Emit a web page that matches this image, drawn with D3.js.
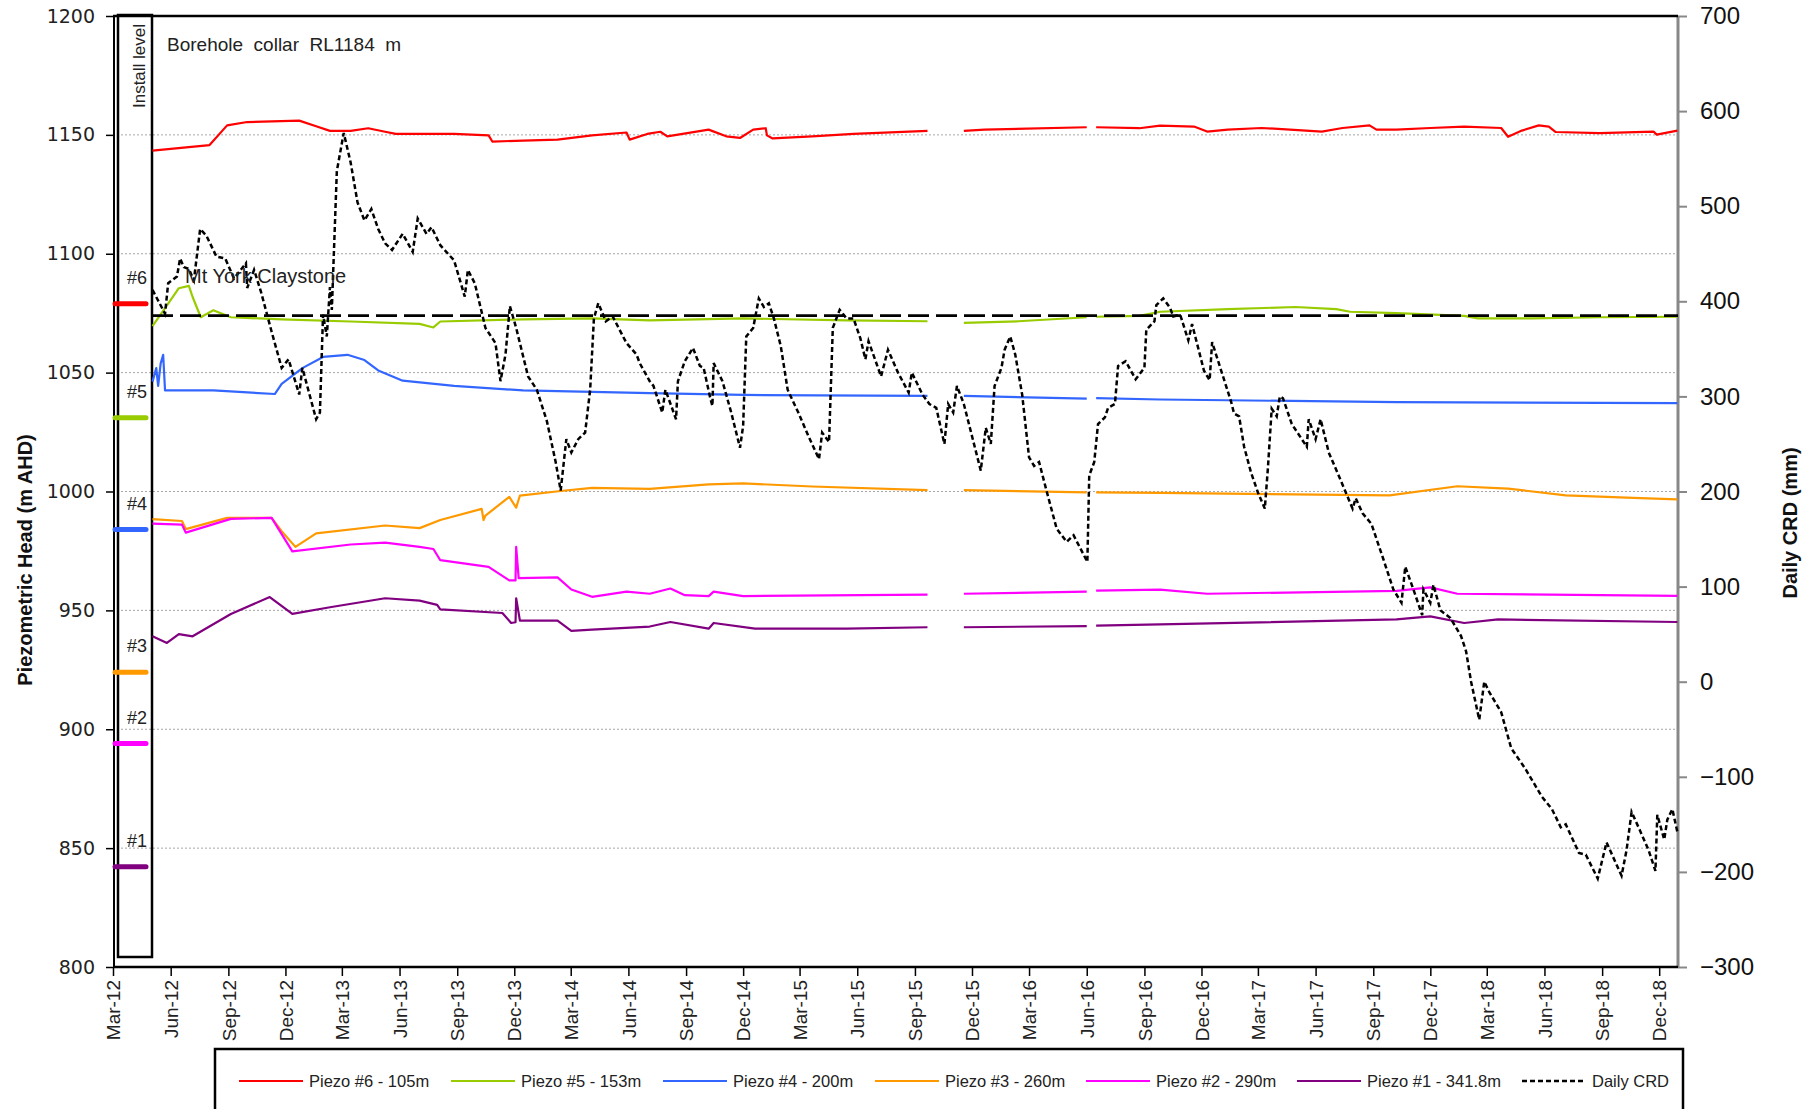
<!DOCTYPE html>
<html><head><meta charset="utf-8">
<script src="https://cdn.jsdelivr.net/npm/d3@7"></script>
<style>body{margin:0;background:#fff}svg{display:block}</style>
</head><body>
<svg id="chart" width="1818" height="1109"></svg>
<script>
// ---------- DATA ----------
const seriesNames = ["Piezo #6 - 105m","Piezo #5 - 153m","Piezo #4 - 200m","Piezo #3 - 260m","Piezo #2 - 290m","Piezo #1 - 341.8m"];
const seriesColors = ["#ff0000","#99cc00","#3366ff","#ff9900","#ff00ff","#800080"];
const installLabels = ["#6","#5","#4","#3","#2","#1"];
const installLevels = [1079, 1031, 984, 924, 894, 842.2];
const crdName = "Daily CRD";
const claystoneLevel = 1074;
const leftTicks = [800,850,900,950,1000,1050,1100,1150,1200];
const gridTicks = [850,900,950,1000,1050,1100,1150];
const rightTicks = [-300,-200,-100,0,100,200,300,400,500,600,700];

const piezo6 = [["2012-05-03",1143.4],["2012-08-02",1145.7],["2012-08-30",1154],["2012-10-01",1155.4],["2012-12-23",1156],["2013-01-19",1153.6],["2013-02-10",1151.7],["2013-03-15",1151.7],["2013-04-12",1152.8],["2013-05-09",1151.3],["2013-05-26",1150.4],["2013-08-27",1150.4],["2013-10-21",1149.8],["2013-10-27",1147.2],["2013-12-15",1147.6],["2014-02-08",1148],["2014-04-04",1149.8],["2014-05-29",1151],["2014-06-03",1148],["2014-07-01",1150.4],["2014-07-22",1151.3],["2014-08-02",1149.4],["2014-10-07",1152.2],["2014-11-04",1149.4],["2014-11-26",1148.7],["2014-12-17",1152.2],["2015-01-06",1152.8],["2015-01-08",1149.8],["2015-01-17",1148.5],["2015-03-21",1149.4],["2015-05-26",1150.4],["2015-09-21",1151.7],["2015-10-20",null],["2015-11-18",1151.7],["2015-12-21",1152.2],["2016-06-01",1153.2],["2016-06-08",null],["2016-06-16",1153.2],["2016-08-24",1152.8],["2016-09-26",1153.9],["2016-11-19",1153.5],["2016-12-10",1151.4],["2017-01-12",1152.2],["2017-03-07",1152.9],["2017-06-11",1151.4],["2017-07-14",1152.9],["2017-08-26",1154],["2017-09-06",1152.2],["2017-10-08",1152.2],["2017-12-01",1152.9],["2018-01-24",1153.5],["2018-03-24",1152.9],["2018-04-04",1149.2],["2018-04-26",1151.8],["2018-05-23",1154],["2018-06-08",1153.5],["2018-06-19",1151.2],["2018-08-28",1150.7],["2018-11-22",1151.4],["2018-11-27",1150.1],["2018-12-30",1151.8]];

const piezo5 = [["2012-05-03",1069.6],["2012-05-28",1079],["2012-06-14",1085.5],["2012-06-30",1086.5],["2012-07-06",1081.8],["2012-07-19",1073.3],["2012-08-08",1076.2],["2012-09-05",1073.3],["2012-11-25",1072.4],["2013-03-15",1071.5],["2013-07-03",1070.5],["2013-07-25",1069],["2013-08-05",1071.5],["2013-12-15",1072.4],["2014-04-04",1072.8],["2014-07-05",1072],["2014-12-01",1072.8],["2015-05-15",1072],["2015-09-21",1071.6],["2015-10-20",null],["2015-11-18",1070.9],["2016-02-13",1071.6],["2016-06-01",1073.3],["2016-06-08",null],["2016-06-16",1073.5],["2016-08-24",1073.9],["2016-09-26",1075.6],["2017-01-12",1076.7],["2017-04-30",1077.6],["2017-07-04",1076.7],["2017-07-26",1075.6],["2017-10-08",1075],["2018-01-24",1073.9],["2018-02-15",1072.8],["2018-05-12",1072.8],["2018-08-28",1073.3],["2018-12-30",1073.5]];

const piezo4 = [["2012-05-03",1046.2],["2012-05-09",1051.9],["2012-05-12",1044.4],["2012-05-16",1053.8],["2012-05-20",1057.5],["2012-05-23",1042.5],["2012-08-08",1042.5],["2012-11-14",1041],["2012-11-25",1045.3],["2012-12-28",1051.9],["2013-01-30",1056.6],["2013-03-10",1057.5],["2013-04-06",1055.3],["2013-04-28",1050.9],["2013-06-06",1046.6],["2013-08-27",1044.4],["2013-12-15",1042.5],["2014-07-05",1041.4],["2014-12-01",1040.6],["2015-09-21",1040.2],["2015-10-20",null],["2015-11-18",1040.2],["2016-06-01",1039.1],["2016-06-08",null],["2016-06-16",1039.3],["2016-09-26",1038.7],["2017-10-08",1037.6],["2018-12-30",1037.2]];

const piezo3 = [["2012-05-03",988.4],["2012-06-19",987.6],["2012-06-25",984.2],["2012-08-30",988.9],["2012-11-09",988.9],["2012-11-25",983.3],["2012-12-17",976.7],["2013-01-19",982.4],["2013-05-09",985.7],["2013-07-03",984.6],["2013-08-05",988],["2013-10-10",992.7],["2013-10-13",988],["2013-10-16",989.9],["2013-11-23",997.7],["2013-12-04",993.2],["2013-12-10",998.3],["2014-02-13",1000.2],["2014-04-04",1001.5],["2014-07-05",1001.1],["2014-10-07",1003],["2014-12-01",1003.4],["2015-03-21",1002.1],["2015-09-21",1000.6],["2015-10-20",null],["2015-11-18",1000.6],["2016-06-01",999.6],["2016-06-08",null],["2016-06-16",999.6],["2016-09-26",999.4],["2017-09-27",998.4],["2018-01-13",1002.2],["2018-04-04",1001.2],["2018-07-05",998.4],["2018-10-21",997.3],["2018-12-30",996.7]];

const piezo2 = [["2012-05-03",986.5],["2012-06-19",986.1],["2012-06-25",982.7],["2012-09-05",988.5],["2012-11-09",988.9],["2012-12-12",974.8],["2013-03-15",977.7],["2013-05-09",978.5],["2013-07-03",976.7],["2013-07-25",975.8],["2013-08-05",971.1],["2013-10-21",968.3],["2013-11-23",962.6],["2013-12-03",962.6],["2013-12-04",976.7],["2013-12-08",963.6],["2014-02-08",963.9],["2014-03-02",958.8],["2014-04-04",955.7],["2014-05-29",957.9],["2014-07-05",957],["2014-08-07",959.2],["2014-08-30",956.4],["2014-10-07",956],["2014-10-15",957.9],["2014-12-01",956],["2015-09-21",956.6],["2015-10-20",null],["2015-11-18",957],["2016-06-01",957.9],["2016-06-08",null],["2016-06-16",958.3],["2016-09-26",958.7],["2016-12-10",957],["2017-10-08",958.2],["2017-12-01",959.7],["2018-01-13",957],["2018-12-30",956.1]];

const piezo1 = [["2012-05-03",939.1],["2012-05-26",936.3],["2012-06-14",940],["2012-07-06",939.1],["2012-09-05",948.5],["2012-11-06",955.6],["2012-12-12",948.5],["2013-02-10",951.3],["2013-05-09",955.1],["2013-07-03",954.1],["2013-07-31",952.3],["2013-08-05",950.4],["2013-11-12",948.9],["2013-11-26",944.7],["2013-12-03",945],["2013-12-04",955.1],["2013-12-10",945.7],["2014-02-08",945.7],["2014-03-02",941.4],["2014-04-04",941.9],["2014-07-05",943.2],["2014-08-07",945.1],["2014-10-07",942.3],["2014-10-15",944.7],["2014-12-20",942.3],["2015-05-15",942.3],["2015-09-21",942.9],["2015-10-20",null],["2015-11-18",942.9],["2016-06-01",943.4],["2016-06-08",null],["2016-06-16",943.6],["2016-09-26",944.1],["2017-10-08",946.2],["2017-12-01",947.5],["2018-01-24",944.7],["2018-03-19",946.2],["2018-12-30",945.1]];

const dailyCRD = [["2012-05-03",412],["2012-05-23",387],["2012-05-28",419],["2012-06-11",426],["2012-06-16",445],["2012-06-22",436],["2012-06-30",434],["2012-07-08",422],["2012-07-18",476],["2012-07-28",469],["2012-08-13",447],["2012-08-27",445],["2012-09-10",424],["2012-09-29",440],["2012-10-01",414],["2012-10-12",433],["2012-10-23",410],["2012-11-09",368],["2012-11-25",330],["2012-12-06",339],["2012-12-23",302],["2012-12-28",330],["2013-01-19",276],["2013-01-25",283],["2013-01-30",386],["2013-02-05",363],["2013-02-10",415],["2013-02-13",391],["2013-02-21",537],["2013-03-04",577],["2013-03-15",546],["2013-03-26",504],["2013-04-06",485],["2013-04-17",497],["2013-04-28",476],["2013-05-09",461],["2013-05-20",454],["2013-06-06",471],["2013-06-22",452],["2013-06-30",487],["2013-07-14",471],["2013-07-22",478],["2013-08-05",459],["2013-08-27",443],["2013-09-13",405],["2013-09-18",433],["2013-09-29",419],["2013-10-16",372],["2013-11-01",356],["2013-11-09",316],["2013-11-17",344],["2013-11-24",395],["2013-12-04",372],["2013-12-23",321],["2014-01-06",307],["2014-01-22",274],["2014-02-05",231],["2014-02-13",201],["2014-02-22",255],["2014-03-02",241],["2014-03-13",255],["2014-03-24",262],["2014-04-01",307],["2014-04-07",382],["2014-04-14",398],["2014-04-26",379],["2014-05-07",384],["2014-05-29",356],["2014-06-14",344],["2014-06-19",335],["2014-07-05",316],["2014-07-11",311],["2014-07-25",283],["2014-07-30",307],["2014-08-16",276],["2014-08-19",316],["2014-08-30",337],["2014-09-12",351],["2014-09-23",332],["2014-09-29",330],["2014-10-10",297],["2014-10-13",290],["2014-10-15",335],["2014-10-29",316],["2014-11-12",283],["2014-11-26",246],["2014-12-01",269],["2014-12-06",363],["2014-12-17",372],["2014-12-26",403],["2015-01-03",394],["2015-01-11",398],["2015-01-19",382],["2015-01-30",353],["2015-02-10",307],["2015-02-27",283],["2015-03-16",257],["2015-04-01",234],["2015-04-06",262],["2015-04-17",252],["2015-04-23",372],["2015-05-04",391],["2015-05-15",382],["2015-05-26",382],["2015-06-06",361],["2015-06-14",339],["2015-06-19",358],["2015-07-09",321],["2015-07-20",349],["2015-08-05",325],["2015-08-22",304],["2015-08-27",325],["2015-09-13",302],["2015-09-24",292],["2015-10-05",288],["2015-10-18",250],["2015-10-24",292],["2015-11-01",283],["2015-11-07",311],["2015-11-18",292],["2015-12-15",222],["2015-12-23",267],["2015-12-31",250],["2016-01-06",311],["2016-01-17",330],["2016-01-22",349],["2016-01-31",363],["2016-02-08",344],["2016-02-19",302],["2016-03-01",236],["2016-03-09",227],["2016-03-17",231],["2016-03-28",203],["2016-04-14",161],["2016-04-30",147],["2016-05-11",154],["2016-06-02",126],["2016-06-05",217],["2016-06-13",231],["2016-06-19",271],["2016-06-30",278],["2016-07-05",288],["2016-07-16",292],["2016-07-21",332],["2016-08-02",337],["2016-08-18",318],["2016-09-01",330],["2016-09-04",370],["2016-09-17",379],["2016-09-20",396],["2016-10-01",403],["2016-10-12",393],["2016-10-17",384],["2016-10-28",386],["2016-11-10",359],["2016-11-16",376],["2016-12-05",327],["2016-12-14",317],["2016-12-18",357],["2017-01-01",328],["2017-01-17",295],["2017-01-22",282],["2017-01-30",279],["2017-02-07",247],["2017-02-18",220],["2017-03-01",199],["2017-03-12",182],["2017-03-17",225],["2017-03-23",287],["2017-03-31",279],["2017-04-05",300],["2017-04-10",298],["2017-04-24",271],["2017-05-18",247],["2017-05-21",276],["2017-06-01",255],["2017-06-09",276],["2017-06-22",241],["2017-07-09",215],["2017-07-30",182],["2017-08-04",193],["2017-08-15",177],["2017-08-29",166],["2017-09-17",129],["2017-10-03",97],["2017-10-16",83],["2017-10-22",121],["2017-11-04",97],["2017-11-18",70],["2017-11-20",97],["2017-12-01",83],["2017-12-06",102],["2017-12-17",75],["2018-01-02",67],["2018-01-19",48],["2018-01-27",32],["2018-02-04",0],["2018-02-17",-40],["2018-02-25",0],["2018-03-05",-11],["2018-03-24",-32],["2018-04-09",-70],["2018-05-01",-91],["2018-05-28",-121],["2018-06-13",-134],["2018-06-27",-153],["2018-07-05",-150],["2018-07-26",-180],["2018-08-06",-182],["2018-08-25",-207],["2018-09-08",-169],["2018-09-21",-188],["2018-10-02",-204],["2018-10-10",-177],["2018-10-18",-137],["2018-10-31",-156],["2018-11-14",-177],["2018-11-25",-199],["2018-11-28",-140],["2018-12-09",-166],["2018-12-14",-145],["2018-12-22",-134],["2018-12-30",-158]];

const piezoSeries = [piezo6, piezo5, piezo4, piezo3, piezo2, piezo1];

// ---------- CHART ----------
const parse = d3.timeParse("%Y-%m-%d");
const svg = d3.select("#chart");
const P = {left:113, right:1678, top:16, bottom:967};
const x = d3.scaleTime().domain([parse("2012-03-01"), parse("2018-12-31")]).range([P.left, P.right]);
const yL = d3.scaleLinear().domain([800,1200]).range([P.bottom, P.top]);
const yR = d3.scaleLinear().domain([-300,700]).range([P.bottom, P.top]);
const xTicks = d3.timeMonths(parse("2012-03-01"), parse("2019-01-01"), 3);
const SANS = "'Liberation Sans', Arial, sans-serif";

// grid
svg.append("g").selectAll("line").data(gridTicks).join("line")
  .attr("x1", P.left).attr("x2", P.right)
  .attr("y1", d => yL(d)).attr("y2", d => yL(d))
  .attr("stroke", "#a6a6a6").attr("stroke-width", 1).attr("stroke-dasharray", "2,2");

// left axis
const gL = svg.append("g").attr("transform", `translate(${P.left},0)`)
  .call(d3.axisLeft(yL).tickValues(leftTicks).tickSize(7).tickPadding(11).tickFormat(d3.format("d")));
gL.select(".domain").remove();
gL.selectAll(".tick line").attr("stroke", "#000").attr("stroke-width", 1.5);
gL.selectAll(".tick text").attr("font-family", "'DejaVu Sans', Verdana, sans-serif").attr("font-size", 19).attr("fill", "#222");

// right axis
const gR = svg.append("g").attr("transform", `translate(${P.right},0)`)
  .call(d3.axisRight(yR).tickValues(rightTicks).tickSize(9).tickPadding(13).tickFormat(d3.format("d")));
gR.select(".domain").remove();
gR.selectAll(".tick line").attr("stroke", "#888").attr("stroke-width", 2);
gR.selectAll(".tick text").attr("font-family", SANS).attr("font-size", 24).attr("fill", "#111");
svg.append("line").attr("x1", P.right).attr("x2", P.right).attr("y1", P.top).attr("y2", P.bottom)
  .attr("stroke", "#888").attr("stroke-width", 3);

// bottom axis
const gX = svg.append("g").attr("transform", `translate(0,${P.bottom})`)
  .call(d3.axisBottom(x).tickValues(xTicks).tickSize(9).tickFormat(d3.timeFormat("%b-%y")));
gX.select(".domain").remove();
gX.selectAll(".tick line").attr("stroke", "#000").attr("stroke-width", 1.5);
gX.selectAll(".tick text").attr("font-family", SANS).attr("font-size", 19).attr("fill", "#222")
  .attr("transform", "rotate(-90)").attr("x", -13).attr("y", 0).attr("dy", "0.35em").style("text-anchor", "end");

// frame lines
svg.append("line").attr("x1", P.left).attr("x2", P.right).attr("y1", P.top).attr("y2", P.top).attr("stroke", "#000").attr("stroke-width", 2.5);
svg.append("line").attr("x1", P.left).attr("x2", P.right).attr("y1", P.bottom).attr("y2", P.bottom).attr("stroke", "#000").attr("stroke-width", 2.5);
svg.append("line").attr("x1", P.left + 1).attr("x2", P.left + 1).attr("y1", P.top).attr("y2", P.bottom).attr("stroke", "#000").attr("stroke-width", 2);

// install level box
const boxL = 118, boxR = 152;
svg.append("rect").attr("x", boxL).attr("y", 15).attr("width", boxR - boxL).attr("height", 957 - 15)
  .attr("fill", "none").attr("stroke", "#000").attr("stroke-width", 2.5);
svg.append("text").attr("transform", "translate(145,66) rotate(-90)").attr("text-anchor", "middle")
  .attr("font-family", SANS).attr("font-size", 17).attr("fill", "#222").text("Install level");

// install markers
installLevels.forEach((lv, i) => {
  svg.append("line").attr("x1", P.left + 2).attr("x2", 146).attr("y1", yL(lv)).attr("y2", yL(lv))
    .attr("stroke", seriesColors[i]).attr("stroke-width", 5).attr("stroke-linecap", "round");
  svg.append("text").attr("x", 147).attr("y", yL(lv) - 20).attr("text-anchor", "end")
    .attr("font-family", SANS).attr("font-size", 18).attr("fill", "#222").text(installLabels[i]);
});

// piezo lines
const lineL = d3.line().defined(d => d[1] != null).x(d => x(parse(d[0]))).y(d => yL(d[1]));
piezoSeries.forEach((s, i) => {
  svg.append("path").datum(s).attr("d", lineL).attr("fill", "none")
    .attr("stroke", seriesColors[i]).attr("stroke-width", 2.2).attr("stroke-linejoin", "round");
});

// claystone reference line
svg.append("line").attr("x1", boxR).attr("x2", P.right).attr("y1", yL(claystoneLevel)).attr("y2", yL(claystoneLevel))
  .attr("stroke", "#000").attr("stroke-width", 2.8).attr("stroke-dasharray", "21,7");

// CRD
const lineR = d3.line().x(d => x(parse(d[0]))).y(d => yR(d[1]));
svg.append("path").datum(dailyCRD).attr("d", lineR).attr("fill", "none")
  .attr("stroke", "#000").attr("stroke-width", 2.5).attr("stroke-dasharray", "5,3");

// annotations
svg.append("text").attr("x", 167).attr("y", 51).attr("font-family", SANS).attr("font-size", 19).attr("fill", "#222")
  .style("white-space", "pre").text("Borehole  collar  RL1184  m");
svg.append("text").attr("x", 185).attr("y", 283).attr("font-family", SANS).attr("font-size", 20).attr("fill", "#222")
  .text("Mt York Claystone");

// axis titles
svg.append("text").attr("transform", "translate(32,560) rotate(-90)").attr("text-anchor", "middle")
  .attr("font-family", SANS).attr("font-weight", "bold").attr("font-size", 20).attr("fill", "#111")
  .text("Piezometric Head (m AHD)");
svg.append("text").attr("transform", "translate(1797,523) rotate(-90)").attr("text-anchor", "middle")
  .attr("font-family", SANS).attr("font-weight", "bold").attr("font-size", 20).attr("fill", "#111")
  .text("Daily CRD (mm)");

// legend
svg.append("rect").attr("x", 215).attr("y", 1049).attr("width", 1468).attr("height", 90)
  .attr("fill", "#fff").attr("stroke", "#000").attr("stroke-width", 2.5);
const legendItems = seriesNames.map((n, i) => ({name: n, color: seriesColors[i], dash: null}))
  .concat([{name: crdName, color: "#000", dash: "5,3"}]);
const legendSlots = [239, 451, 663, 875, 1086, 1297, 1522];
const ly = 1081;
legendItems.forEach((it, i) => {
  const lx = legendSlots[i];
  svg.append("line").attr("x1", lx).attr("x2", lx + 64).attr("y1", ly).attr("y2", ly)
    .attr("stroke", it.color).attr("stroke-width", it.dash ? 2.5 : 2.2).attr("stroke-dasharray", it.dash);
  svg.append("text").attr("x", lx + 70).attr("y", ly + 6)
    .attr("font-family", SANS).attr("font-size", 16.5).attr("fill", "#222").text(it.name);
});
</script>
</body></html>
